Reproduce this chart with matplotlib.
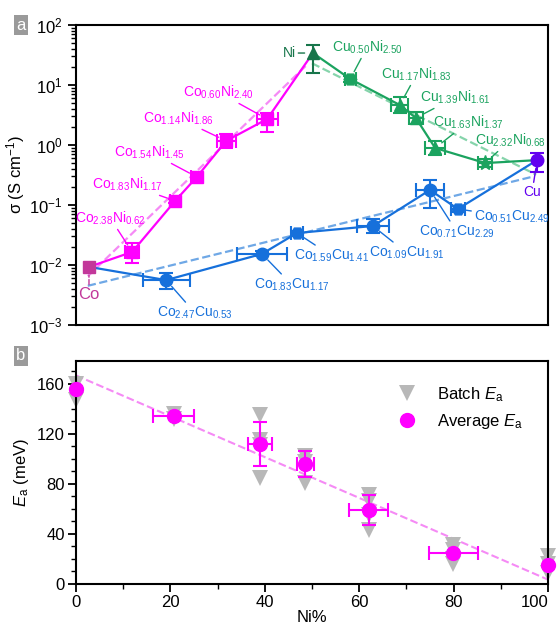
import numpy as np
import matplotlib
matplotlib.use('Agg')
import matplotlib.pyplot as plt
from matplotlib.ticker import MultipleLocator, LogLocator, NullFormatter

plt.rcParams['font.family'] = ['Liberation Sans', 'DejaVu Sans']
plt.rcParams['mathtext.fontset'] = 'custom'
plt.rcParams['mathtext.rm'] = 'Liberation Sans'
plt.rcParams['mathtext.it'] = 'Liberation Sans:italic'
plt.rcParams['mathtext.bf'] = 'Liberation Sans:bold'

# ---------------- Panel a data ----------------
co_x, co_y = 2.75, 0.0093
ni_x, ni_y, ni_lo, ni_hi = 50.2, 34.1, 15.8, 46.4
cu_x, cu_y, cu_lo, cu_hi = 97.7, 0.56, 0.355, 0.74

coni_labels = ['Co$_{2.38}$Ni$_{0.62}$', 'Co$_{1.83}$Ni$_{1.17}$', 'Co$_{1.54}$Ni$_{1.45}$',
               'Co$_{1.14}$Ni$_{1.86}$', 'Co$_{0.60}$Ni$_{2.40}$']
coni_x = [11.9, 21.0, 25.6, 31.8, 40.5]
coni_y = [0.0165, 0.117, 0.293, 1.17, 2.71]
coni_ylo = [0.0108, 0.107, 0.250, 0.887, 1.65]
coni_yhi = [0.0233, 0.128, 0.344, 1.54, 3.41]
coni_xerr = [1.5, 1.0, 1.2, 2.0, 2.2]

nicu_labels = ['Cu$_{0.50}$Ni$_{2.50}$', 'Cu$_{1.17}$Ni$_{1.83}$', 'Cu$_{1.39}$Ni$_{1.61}$',
               'Cu$_{1.63}$Ni$_{1.37}$', 'Cu$_{2.32}$Ni$_{0.68}$']
nicu_x = [58.1, 68.6, 72.0, 76.1, 86.7]
nicu_y = [12.6, 4.64, 2.82, 0.89, 0.50]
nicu_ylo = [11.2, 3.36, 2.24, 0.675, 0.435]
nicu_yhi = [14.1, 6.41, 3.55, 1.17, 0.574]
nicu_xerr = [1.2, 1.8, 1.5, 2.1, 1.5]

cocu_labels = ['Co$_{2.47}$Cu$_{0.53}$', 'Co$_{1.83}$Cu$_{1.17}$', 'Co$_{1.59}$Cu$_{1.41}$',
               'Co$_{1.09}$Cu$_{1.91}$', 'Co$_{0.71}$Cu$_{2.29}$', 'Co$_{0.51}$Cu$_{2.49}$']
cocu_x = [19.1, 39.4, 46.8, 62.9, 75.0, 80.9]
cocu_y = [0.0056, 0.0153, 0.0341, 0.0447, 0.178, 0.0858]
cocu_ylo = [0.00398, 0.0139, 0.0311, 0.0347, 0.089, 0.0765]
cocu_yhi = [0.00736, 0.0168, 0.0374, 0.0576, 0.261, 0.0963]
cocu_xerr = [5.0, 5.2, 1.2, 3.4, 3.0, 1.5]

# dashed trend lines (end points)
coni_fit_x, coni_fit_y = [2.5, 49.0], [0.0065, 22.0]
nicu_fit_x, nicu_fit_y = [50.0, 97.5], [23.0, 0.32]
cocu_fit_x, cocu_fit_y = [2.5, 97.0], [0.0045, 0.30]

# ---------------- Panel b data ----------------
ea_x = [0, 20.7, 39.0, 48.6, 62.0, 79.9, 100]
ea_avg = [156, 134, 112, 96, 59, 25, 15.5]
ea_yerr = [0, 0, 17.6, 10.2, 11.8, 0, 0]
ea_xerr = [0, 4.3, 2.5, 1.8, 4.2, 5.2, 0]
ea_batch = [[160, 147], [136, 132], [135, 115, 111, 85], [102, 97, 81],
            [71, 66, 55, 43], [31, 27, 20, 16], [22, 16, 9]]
ea_fit_intercept, ea_fit_slope = 166.5, -1.63
ni_pct_ticks = [0, 20, 40, 60, 80, 100]

# ---------------- styles ----------------
magenta = '#FF00FF'
co_color = '#C2389A'
ni_dark = '#17754A'
green = '#1BA35F'
green_fit = '#86D4AB'
blue = '#1670DB'
blue_fit = '#6FA8E6'
purple = '#6200F0'
pink_fit = '#F58AF5'
grey = '#B8B8B8'

coni_off = [(-22, -34), (-48, -17), (-47, -25), (-48, -23), (-49, -27)]
nicu_off = [(17, -32), (17, -31), (40, -21), (33, -26), (25, -23)]
cocu_off = [(29, 33), (30, 31), (35, 23), (34, 27), (27, 42), (54, 8)]
nicu_mk = ['H', '^', '^', '^', '*']
cocu_mk = ['o', 'o', 'H', 'o', 'o', 'H']

fig = plt.figure(figsize=(5.57, 6.27), dpi=100)
W, H = 557, 627
axa = fig.add_axes([76 / W, 1 - 325 / H, 472 / W, 300 / H])
axb = fig.add_axes([76 / W, 1 - 584 / H, 472 / W, 223 / H])

lw = 1.6
cap = 5


def eb(ax, x, y, lo, hi, xe, color, marker, ms, z=3):
    yerr = None if lo is None else [[y - lo], [hi - y]]
    xerr = None if not xe else [[xe], [xe]]
    ax.errorbar([x], [y], yerr=yerr, xerr=xerr, fmt=marker, color=color, ms=ms,
                ecolor=color, elinewidth=1.5, capsize=cap, capthick=1.5, zorder=z,
                clip_on=False)


def lab(ax, text, x, y, off, color, ls='-', fs=10):
    ax.annotate(text, xy=(x, y), xytext=(off[0] * 0.72, -off[1] * 0.72),
                textcoords='offset points', ha='center', va='center', color=color,
                fontsize=fs,
                arrowprops=dict(arrowstyle='-', color=color, lw=1.0, ls=ls,
                                shrinkA=0, shrinkB=6))


# trend lines
axa.plot(coni_fit_x, coni_fit_y, ls='--', color=pink_fit, lw=1.6, zorder=1)
axa.plot(nicu_fit_x, nicu_fit_y, ls='--', color=green_fit, lw=1.6, zorder=1)
axa.plot(cocu_fit_x, cocu_fit_y, ls='--', color=blue_fit, lw=1.6, zorder=1)

# connecting lines
axa.plot([co_x] + coni_x + [ni_x], [co_y] + coni_y + [ni_y], color=magenta, lw=lw, zorder=2)
axa.plot([ni_x] + nicu_x + [cu_x], [ni_y] + nicu_y + [cu_y], color=green, lw=lw, zorder=2)
axa.plot([co_x] + cocu_x + [cu_x], [co_y] + cocu_y + [cu_y], color=blue, lw=lw, zorder=2)

for i in range(len(coni_x)):
    eb(axa, coni_x[i], coni_y[i], coni_ylo[i], coni_yhi[i], coni_xerr[i], magenta, 's', 8)
    lab(axa, coni_labels[i], coni_x[i], coni_y[i], coni_off[i], magenta)
for i in range(len(nicu_x)):
    eb(axa, nicu_x[i], nicu_y[i], nicu_ylo[i], nicu_yhi[i], nicu_xerr[i], green, nicu_mk[i],
       9 if nicu_mk[i] != '*' else 11)
    lab(axa, nicu_labels[i], nicu_x[i], nicu_y[i], nicu_off[i], green)
for i in range(len(cocu_x)):
    eb(axa, cocu_x[i], cocu_y[i], cocu_ylo[i], cocu_yhi[i], cocu_xerr[i], blue, cocu_mk[i], 9)
    lab(axa, cocu_labels[i], cocu_x[i], cocu_y[i], cocu_off[i], blue)

eb(axa, co_x, co_y, None, None, 0, co_color, 's', 8, z=4)
lab(axa, 'Co', co_x, co_y, (0, 28), co_color, ls='--', fs=12)
eb(axa, ni_x, ni_y, ni_lo, ni_hi, 0, ni_dark, '^', 9, z=4)
lab(axa, 'Ni', ni_x, ni_y, (-24, 0), ni_dark)
eb(axa, cu_x, cu_y, cu_lo, cu_hi, 0, purple, 'o', 9, z=4)
lab(axa, 'Cu', cu_x, cu_y, (-5, 32), purple)

axa.set_yscale('log')
axa.set_ylim(1e-3, 1e2)
axa.set_xlim(0, 100)
axa.set_xticks([])
axa.yaxis.set_major_locator(LogLocator(base=10, numticks=10))
axa.yaxis.set_minor_locator(LogLocator(base=10, subs=np.arange(2, 10), numticks=20))
axa.yaxis.set_minor_formatter(NullFormatter())
axa.tick_params(axis='y', which='major', direction='out', length=6, width=1.3, labelsize=12)
axa.tick_params(axis='y', which='minor', direction='out', length=3.5, width=1.0)
axa.set_ylabel(r'σ (S cm$^{-1}$)', fontsize=12, labelpad=2)

# ---------------- Panel b ----------------
xf = np.array([0, 100])
axb.plot(xf, ea_fit_intercept + ea_fit_slope * xf, ls='--', color=pink_fit, lw=1.5, zorder=1)
for i in range(len(ea_x)):
    axb.plot([ea_x[i]] * len(ea_batch[i]), ea_batch[i], 'v', color=grey, ms=11,
             markeredgewidth=0, zorder=2, clip_on=False)
for i in range(len(ea_x)):
    yerr = [[ea_yerr[i]], [ea_yerr[i]]] if ea_yerr[i] else None
    xerr = [[ea_xerr[i]], [ea_xerr[i]]] if ea_xerr[i] else None
    axb.errorbar([ea_x[i]], [ea_avg[i]], yerr=yerr, xerr=xerr, fmt='o', color=magenta,
                 ms=10, ecolor=magenta, elinewidth=1.5, capsize=cap, capthick=1.5,
                 zorder=3, clip_on=False)

axb.plot([], [], 'v', color=grey, ms=11, markeredgewidth=0, label=r'Batch $E_{\mathrm{a}}$')
axb.plot([], [], 'o', color=magenta, ms=10, label=r'Average $E_{\mathrm{a}}$')
axb.legend(loc='upper right', frameon=False, fontsize=12, handletextpad=0.8,
           bbox_to_anchor=(0.98, 0.96), labelspacing=0.5)

axb.set_xlim(0, 100)
axb.set_ylim(0, 178)
axb.set_xticks(ni_pct_ticks)
axb.set_xticklabels([str(v) for v in ni_pct_ticks])
axb.xaxis.set_minor_locator(MultipleLocator(10))
axb.yaxis.set_major_locator(MultipleLocator(40))
axb.yaxis.set_minor_locator(MultipleLocator(10))
axb.tick_params(which='major', direction='out', length=6, width=1.3, labelsize=12, pad=2)
axb.tick_params(which='minor', direction='out', length=3.5, width=1.0)
axb.set_xlabel('Ni%', fontsize=12, labelpad=0)
axb.set_ylabel(r'$E_{\mathrm{a}}$ (meV)', fontsize=12, labelpad=4)

for ax in (axa, axb):
    for s in ax.spines.values():
        s.set_linewidth(1.5)

# keep the last x tick label ("100") inside the canvas
axb.xaxis.get_major_ticks()[-1].label1.set_horizontalalignment('right')

fig.text(21 / W, 1 - 25 / H, 'a', ha='center', va='center', color='white', fontsize=12,
         bbox=dict(boxstyle='square,pad=0.15', fc='#9A9A9A', ec='none'))
fig.text(21 / W, 1 - 356 / H, 'b', ha='center', va='center', color='white', fontsize=12,
         bbox=dict(boxstyle='square,pad=0.15', fc='#9A9A9A', ec='none'))

fig.savefig('out.png', dpi=100)
